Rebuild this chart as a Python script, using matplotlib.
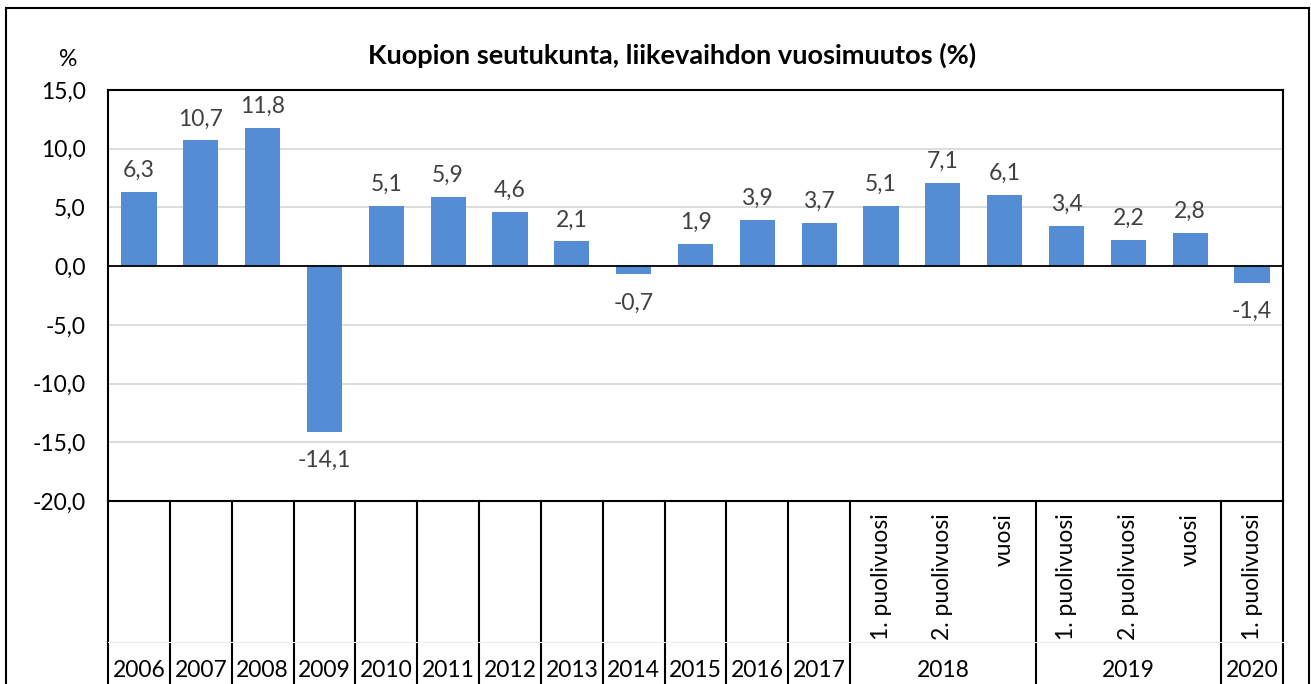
import matplotlib.pyplot as plt
from matplotlib.patches import Rectangle
from matplotlib.transforms import blended_transform_factory

plt.rcParams['font.family'] = ['Lato', 'DejaVu Sans']

# category structure: (year label, sub labels)
groups = [("2006", [""]), ("2007", [""]), ("2008", [""]), ("2009", [""]),
          ("2010", [""]), ("2011", [""]), ("2012", [""]), ("2013", [""]),
          ("2014", [""]), ("2015", [""]), ("2016", [""]), ("2017", [""]),
          ("2018", ["1. puolivuosi", "2. puolivuosi", "vuosi"]),
          ("2019", ["1. puolivuosi", "2. puolivuosi", "vuosi"]),
          ("2020", ["1. puolivuosi"])]
values = [6.3, 10.7, 11.8, -14.1, 5.1, 5.9, 4.6, 2.1, -0.7, 1.9, 3.9, 3.7,
          5.1, 7.1, 6.1, 3.4, 2.2, 2.8, -1.4]
yticks = [-20, -15, -10, -5, 0, 5, 10, 15]

W, H = 1311, 684
FS = 16.5
fig = plt.figure(figsize=(W / 100, H / 100), dpi=100)
ax = fig.add_axes([108 / W, (H - 501) / H, 1175 / W, 411 / H])

x = list(range(len(values)))
bars = ax.bar(x, values, width=0.57, color="#548DD4", zorder=3)

def fmt(v):
    return f"{v:.1f}".replace(".", ",")

for xi, v in zip(x, values):
    if v >= 0:
        ax.annotate(fmt(v), (xi, v), xytext=(0, 8), textcoords="offset points",
                    ha="center", va="bottom", fontsize=FS, color="#404040")
    else:
        ax.annotate(fmt(v), (xi, v), xytext=(0, -13), textcoords="offset points",
                    ha="center", va="top", fontsize=FS, color="#404040")

ax.set_xlim(-0.5, len(values) - 0.5)
ax.set_ylim(-20, 15)
ax.set_yticks(yticks)
ax.set_yticklabels([fmt(t) for t in yticks], fontsize=FS)
ax.tick_params(axis="y", length=0, pad=16)
ax.set_xticks([])
ax.grid(axis="y", color="#D9D9D9", linewidth=1.3, zorder=0)
ax.axhline(0, color="black", linewidth=1.3, zorder=4)
for s in ax.spines.values():
    s.set_linewidth(1.5)
    s.set_color("black")

# multi-level category table below the plot
tr = blended_transform_factory(ax.transData, ax.transAxes)
bounds = [-0.5]
pos = 0
for year, subs in groups:
    n = len(subs)
    center = pos + (n - 1) / 2
    ax.text(center, -0.412, year, transform=tr, ha="center", va="center", fontsize=FS)
    for k, s in enumerate(subs):
        if s:
            ax.text(pos + k, -0.03, s, transform=tr, ha="center", va="top",
                    rotation=90, fontsize=FS)
    pos += n
    bounds.append(pos - 0.5)
for b in bounds:
    ax.plot([b, b], [0, -0.6], transform=tr, color="black", linewidth=1.5,
            clip_on=False)
ax.plot([-0.5, len(values) - 0.5], [-0.343, -0.343], transform=tr,
        color="#EDEDED", linewidth=0.8, clip_on=False)

fig.text(672 / W, 1 - 55 / H, "Kuopion seutukunta, liikevaihdon vuosimuutos (%)",
         ha="center", va="center", fontsize=19.5, fontweight="bold")
fig.text(68 / W, 1 - 59 / H, "%", ha="center", va="center", fontsize=FS)

fig.patches.append(Rectangle((6 / W, -0.1), (1309 - 6) / W, 1.1 - 8 / H,
                             transform=fig.transFigure, fill=False,
                             edgecolor="black", linewidth=1.5))

fig.savefig("out.png", dpi=100)
